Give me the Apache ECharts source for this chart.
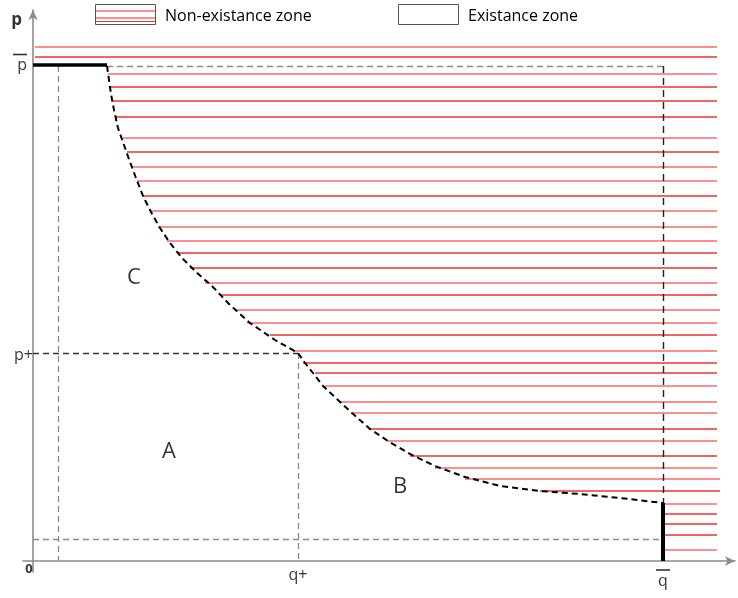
<!DOCTYPE html>
<html><head><meta charset="utf-8">
<script src="https://cdn.jsdelivr.net/npm/echarts@6/dist/echarts.min.js"></script>
<style>html,body{margin:0;padding:0;background:#fff}#c{width:738px;height:598px}</style>
</head><body><div id="c"></div>
<script>
// ---- data (abstract diagram units: q along x, p along y) ----
const qPlus = 265, qBar = 630, pPlus = 208, pBar = 495, pBarTop = 496.5;
const qLow = 25, pLow = 22, qCurveStart = 74, pAtQBar = 58;
// boundary curve p(q)
const curveQ = [74,76,78,81,85,91,97,103,110,118,127,137,149,163,179,197,217,242,265,272,280,290,305,319,337,355,377,402,432,467,507,547,587,630];
const curveP = [495,481,467,451,433,416,399,383,365,349,333,318,303,289,275,256,238,221,208,198,188,175,161,148,132,120,107,95,84,75,70,67,63,58];
// hatching of the non-existence zone
const hatchP     = [514,504,487,474,460,444,423,409,394,380,365,350,334,320,308,293,278,266,251,238,226,210,198,188,175,159,148,132,120,105,93,82,70,57,47,37,26,11];
const hatchStart = [2,2,75,77,80,83,90,94,99,104,110,117,125,134,144,157,172,188,202,214,237,260,270,282,292,307,319,337,354,377,402,432,507,632,632,632,632,632];
const hatchEnd   = [684,684,684,684,684,684,684,686,684,684,684,684,684,684,684,684,684,684,687,684,684,684,684,684,684,684,684,684,684,684,684,687,687,684,684,684,684,684];
const hatchTone  = ['L','D','L','D','D','D','L','D','L','L','D','L','L','L','D','D','L','D','L','L','D','L','D','D','L','L','L','D','L','D','L','L','D','L','D','D','D','L'];
// labels
const regionLabels = [{name:'C', q:101, p:283},{name:'A', q:136, p:109},{name:'B', q:367, p:74}];
const legendNames = ['Non-existance zone','Existance zone'];

const FONT = '"Open Sans", "DejaVu Sans", sans-serif';
const LIGHT = '#ff8f8f', DARK = '#f03232';
const chart = echarts.init(document.getElementById('c'));

function hatchSegments(tone){
  const out = [];
  hatchP.forEach((p,i)=>{
    if (hatchTone[i] !== tone) return;
    out.push([hatchStart[i],p],[hatchEnd[i],p],'-');
  });
  return out;
}

const greyDash = {color:'#8a8a8a', width:1.3, type:[6,4], opacity:1};
const darkDash = {color:'#333', width:1.3, type:[6,4], opacity:1};
const guides = [
  {coords:[[qCurveStart,pBar],[qBar,pBar]], lineStyle:greyDash},
  {coords:[[qLow,pBar],[qLow,0]], lineStyle:greyDash},
  {coords:[[0,pLow],[qBar,pLow]], lineStyle:greyDash},
  {coords:[[qPlus,pPlus],[qPlus,0]], lineStyle:greyDash},
  {coords:[[0,pPlus],[qPlus,pPlus]], lineStyle:darkDash},
  {coords:[[qBar,pBar],[qBar,pAtQBar]], lineStyle:{color:'#222', width:1.4, type:[7,5], opacity:1}}
];
const thick = [
  {coords:[[0,pBarTop],[qCurveStart,pBarTop]], lineStyle:{color:'#000', width:3.5, opacity:1}},
  {coords:[[qBar,pAtQBar],[qBar,0]], lineStyle:{color:'#000', width:4, opacity:1}}
];

const barRich = {
  bar:{width:14, height:1.6, backgroundColor:'#000', lineHeight:6},
  t:{fontFamily:FONT, fontSize:16, color:'#000', lineHeight:16}
};
const axisLabels = [
  {value:[0,541], label:{formatter:'p', position:'left', distance:11, fontWeight:'bold', fontSize:17, fontFamily:FONT, color:'#000'}},
  {value:[0,pBarTop], label:{formatter:'{bar|}\n{t|p}', rich:barRich, position:'left', distance:6, offset:[0,-2]}},
  {value:[0,pPlus-2], label:{formatter:'p+', position:'left', distance:0, fontSize:16, fontFamily:FONT, color:'#000'}},
  {value:[0,0], label:{formatter:'0', position:'bottom', distance:2, offset:[-4,0], fontWeight:'bold', fontSize:13, fontFamily:FONT, color:'#000'}},
  {value:[qPlus,0], label:{formatter:'q+', position:'bottom', distance:6, fontSize:16, fontFamily:FONT, color:'#000'}},
  {value:[qBar,0], label:{formatter:'{bar|}\n{t|q}', rich:barRich, position:'bottom', distance:6}}
];

const legendGroup = {
  type:'group', x:0, y:0,
  children:[
    {type:'rect', shape:{x:95.5,y:4.5,width:60,height:20}, style:{fill:'#fff', stroke:'#555', lineWidth:1}},
    {type:'line', shape:{x1:96,y1:11,x2:155,y2:11}, style:{stroke:LIGHT, lineWidth:1.8}},
    {type:'line', shape:{x1:96,y1:18,x2:155,y2:18}, style:{stroke:LIGHT, lineWidth:1.8}},
    {type:'line', shape:{x1:96,y1:21.5,x2:155,y2:21.5}, style:{stroke:DARK, lineWidth:1.2}},
    {type:'text', x:165, y:16, style:{text:legendNames[0], font:'16px '+FONT, fill:'#000', textVerticalAlign:'middle'}},
    {type:'rect', shape:{x:398.5,y:4.5,width:60,height:20}, style:{fill:'#fff', stroke:'#555', lineWidth:1}},
    {type:'text', x:468, y:16, style:{text:legendNames[1], font:'16px '+FONT, fill:'#000', textVerticalAlign:'middle'}}
  ]
};

chart.setOption({
  animation:false,
  backgroundColor:'#fff',
  grid:{left:23, top:10, right:3, bottom:26},
  xAxis:{type:'value', min:-10, max:702, splitLine:{show:false}, axisTick:{show:false}, axisLabel:{show:false},
    axisLine:{onZero:true, lineStyle:{color:'#8c8c8c', width:1.6}, symbol:['none','arrow'], symbolSize:[7,10]}},
  yAxis:{type:'value', min:-11, max:551, splitLine:{show:false}, axisTick:{show:false}, axisLabel:{show:false},
    axisLine:{onZero:true, lineStyle:{color:'#8c8c8c', width:1.6}, symbol:['none','arrow'], symbolSize:[7,10]}},
  graphic:[legendGroup],
  series:[
    {type:'line', data:hatchSegments('L'), showSymbol:false, symbol:'none', connectNulls:false, silent:true,
      lineStyle:{color:LIGHT, width:1.8}, z:2},
    {type:'line', data:hatchSegments('D'), showSymbol:false, symbol:'none', connectNulls:false, silent:true,
      lineStyle:{color:DARK, width:1.3}, z:2},
    {type:'lines', coordinateSystem:'cartesian2d', silent:true, data:guides, z:3, lineStyle:{opacity:1}},
    {type:'line', data:curveQ.map((q,i)=>[q,curveP[i]]), showSymbol:false, symbol:'none',
      lineStyle:{color:'#000', width:2, type:[6,4]}, z:4},
    {type:'lines', coordinateSystem:'cartesian2d', silent:true, data:thick, z:5, lineStyle:{opacity:1}},
    {type:'scatter', symbolSize:0, data:axisLabels, label:{show:true}, z:6},
    {type:'scatter', symbolSize:0, z:6,
      data:regionLabels.map(r=>({value:[r.q,r.p], label:{formatter:r.name}})),
      label:{show:true, position:'inside', fontSize:22, fontFamily:FONT, color:'#000'}}
  ]
});
</script></body></html>
